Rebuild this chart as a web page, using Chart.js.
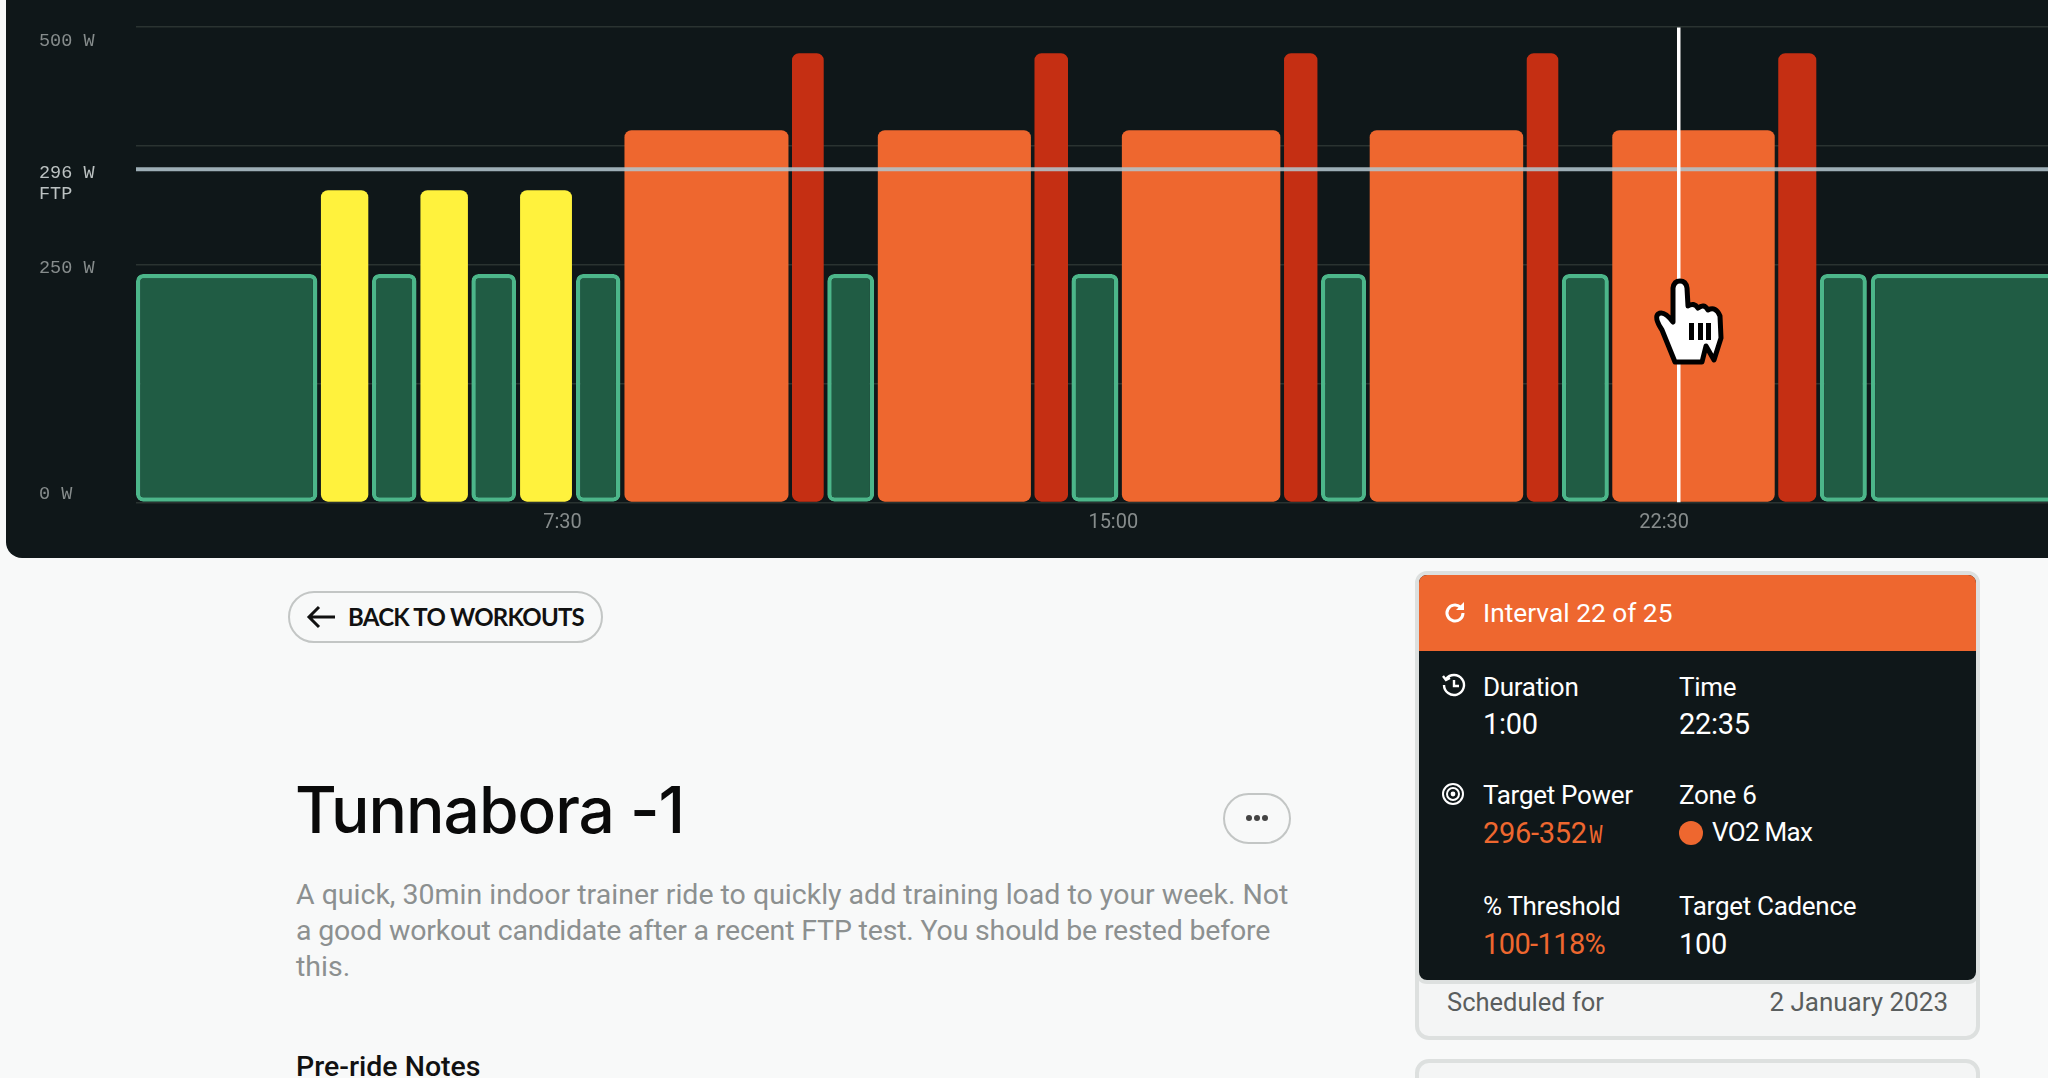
<!DOCTYPE html>
<html>
<head>
<meta charset="utf-8">
<title>Tunnabora -1</title>
<script src="https://cdn.jsdelivr.net/npm/chart.js@4"></script>
<style>
  html, body { margin: 0; padding: 0; width: 2048px; height: 1078px; overflow: hidden; background: #f8f9f9; font-family: Roboto, sans-serif; }
  .abs { position: absolute; white-space: nowrap; }
  #panel { position: absolute; left: 6px; top: 0; width: 2042px; height: 558px; background: #0f1719; border-bottom-left-radius: 16px; overflow: hidden; }
  #panel canvas { display: block; }
  .pill { position: absolute; box-sizing: border-box; border: 2.5px solid #c3c6c5; border-radius: 26px; }
  .white { color: #fff; font-size: 26px; letter-spacing: -.3px; }
  .hot { color: #ee672f; font-size: 29px; letter-spacing: -.3px; }
</style>
</head>
<body>
<div id="panel"><canvas id="workout-chart" width="2042" height="558"></canvas></div>

<svg class="abs" style="left:1650px;top:272px" width="80" height="96" viewBox="1650 272 80 96">
  <path d="M1675 362 L1662 330 Q1654 318 1658 314 Q1664 310 1673 322 L1673 288 Q1674 281 1680 281 Q1686 281 1687 288 L1688 306 Q1694 302 1698 308 Q1704 303 1708 310 Q1716 306 1720 316 L1721 338 L1714 360 L1706 346 L1702 362 Z" fill="#fff" stroke="#000" stroke-width="5" stroke-linejoin="round"/>
  <rect x="1689" y="323" width="5" height="17" fill="#000"/><rect x="1698" y="323" width="5" height="17" fill="#000"/><rect x="1706" y="323" width="5" height="17" fill="#000"/>
</svg>

<div class="pill" style="left:288px;top:591px;width:315px;height:52px"></div>
<svg class="abs" style="left:306px;top:604px" width="32" height="26" viewBox="0 0 32 26"><path d="M29 13H3M13 3L3 13l10 10" fill="none" stroke="#111" stroke-width="3"/></svg>
<div class="abs" style="left:348px;top:601px;font:700 24px/32px Lato,sans-serif;color:#111;letter-spacing:-.75px">BACK TO WORKOUTS</div>

<div class="abs" style="left:295px;top:772px;font:500 64px/76px Inter,sans-serif;color:#0a0a0a;letter-spacing:-1px">Tunnabora -1</div>
<div class="pill" style="left:1223px;top:793px;width:68px;height:51px"></div>
<svg class="abs" style="left:1244px;top:812px" width="26" height="12"><circle cx="5" cy="6" r="3" fill="#444"/><circle cx="13" cy="6" r="3" fill="#444"/><circle cx="21" cy="6" r="3" fill="#444"/></svg>

<div class="abs" style="left:296px;top:877px;font:400 28.5px/36px Roboto,sans-serif;color:#8c9090">A quick, 30min indoor trainer ride to quickly add training load to your week. Not<br><span style="letter-spacing:-.18px">a good workout candidate after a recent FTP test. You should be rested before</span><br>this.</div>
<div class="abs" style="left:296px;top:1049px;font:500 28.5px/36px Roboto,sans-serif;color:#111">Pre-ride Notes</div>

<!-- cards behind the popup -->
<div class="abs" style="left:1415px;top:880px;width:565px;height:160px;box-sizing:border-box;background:#f4f5f5;border:4px solid #dde0df;border-radius:14px"></div>
<div class="abs" style="left:1415px;top:1059px;width:565px;height:40px;box-sizing:border-box;background:#f4f5f5;border:4px solid #dde0df;border-radius:14px"></div>
<div class="abs" style="left:1447px;top:984px;font:400 25.5px/36px Roboto,sans-serif;color:#5a5e5e">Scheduled for</div>
<div class="abs" style="right:100px;top:984px;font:400 26px/36px Roboto,sans-serif;color:#5a5e5e">2 January 2023</div>

<!-- interval popup -->
<div class="abs" style="left:1415px;top:571px;width:565px;height:413px;box-sizing:border-box;border:4px solid #dde0df;border-radius:12px;background:#0f1719;overflow:hidden">
  <div style="height:76px;background:#ee672f"></div>
</div>
<svg class="abs" style="left:1443px;top:601px" width="24" height="24" viewBox="0 0 24 24"><path d="M20 12a8 8 0 1 1-2.6-5.9" fill="none" stroke="#fff" stroke-width="3"/><path d="M21 1v8h-8z" fill="#fff"/></svg>
<div class="abs white" style="left:1483px;top:598px;letter-spacing:0;font-size:26.3px">Interval 22 of 25</div>
<svg class="abs" style="left:1441px;top:672px" width="26" height="26" viewBox="0 0 26 26"><path d="M5 7a10 10 0 1 1-2 6M2 4l3 4 4-2" fill="none" stroke="#fff" stroke-width="2.4"/><path d="M13 8v6h5" fill="none" stroke="#fff" stroke-width="2.4"/></svg>
<div class="abs white" style="left:1483px;top:672px">Duration</div>
<div class="abs white" style="left:1483px;top:707px;font-size:29px">1:00</div>
<div class="abs white" style="left:1679px;top:672px">Time</div>
<div class="abs white" style="left:1679px;top:707px;font-size:29px">22:35</div>
<svg class="abs" style="left:1441px;top:782px" width="24" height="24" viewBox="0 0 24 24"><circle cx="12" cy="12" r="10" fill="none" stroke="#fff" stroke-width="2"/><circle cx="12" cy="12" r="6" fill="none" stroke="#fff" stroke-width="2"/><circle cx="12" cy="12" r="2.4" fill="#fff"/></svg>
<div class="abs white" style="left:1483px;top:780px">Target Power</div>
<div class="abs hot" style="left:1483px;top:816px">296-352<span style="display:inline-block;font:400 27px 'Liberation Mono',monospace;transform:scaleX(.8);margin-left:1px">W</span></div>
<div class="abs white" style="left:1679px;top:780px">Zone 6</div>
<svg class="abs" style="left:1679px;top:821px" width="24" height="24"><circle cx="12" cy="12" r="12" fill="#ee672f"/></svg>
<div class="abs white" style="left:1712px;top:817px;letter-spacing:-.7px">VO2 Max</div>
<div class="abs white" style="left:1483px;top:891px">% Threshold</div>
<div class="abs hot" style="left:1483px;top:927px;letter-spacing:-.6px">100-118%</div>
<div class="abs white" style="left:1679px;top:891px">Target Cadence</div>
<div class="abs white" style="left:1679px;top:927px;font-size:29px">100</div>

<script>
// y values are read against the printed gridlines, x values are seconds along the time axis
const intervalStarts = [101.5, 252.6, 294.3, 333.9, 375.5, 415.3, 461, 500.6, 637.5, 666.3, 707.6, 835.6, 865.8, 907, 1039.5, 1069.7, 1109.5, 1237.8, 1266.5, 1307.7, 1443.3, 1477.3, 1518.9];
const intervalEnds = [249.7, 291.3, 330.7, 372.7, 412, 457.7, 497.3, 634.6, 663.4, 704.6, 832.7, 863, 904.2, 1036.5, 1066.8, 1106.5, 1234.9, 1263.6, 1304.9, 1440.4, 1474.4, 1515.7, 1700];
const intervalPower = [240, 328, 240, 328, 240, 328, 240, 391, 472, 240, 391, 472, 240, 391, 472, 240, 391, 472, 240, 391, 472, 240, 240];
const intervalZones = ['rest', 'tempo', 'rest', 'tempo', 'rest', 'tempo', 'rest', 'vo2', 'max', 'rest', 'vo2', 'max', 'rest', 'vo2', 'max', 'rest', 'vo2', 'max', 'rest', 'vo2', 'max', 'rest', 'rest'];

const gridValues = [0, 125, 250, 375, 500];
const yTickValues = [9, 246, 335, 485];
const yTickLabels = ['0 W', '250 W', ['296 W', 'FTP'], '500 W'];
const xTickValues = [450, 900, 1350];
const xTickLabels = ['7:30', '15:00', '22:30'];

const ftpLevel = 350;
const cursorTime = 1362;

const zoneFill = { rest: '#205c44', tempo: '#fff23d', vo2: '#ee672f', max: '#c52f13' };
const zoneBorder = { rest: '#4cb68a', tempo: '#fff23d', vo2: '#ee672f', max: '#c52f13' };

// bars with their own width: start and end come from the data, not from the category grid
class IntervalBarController extends Chart.BarController {
    static id = 'intervalBar';
    static defaults = {};

    _calculateBarIndexPixels(index) {
        const point = this.getDataset().data[index];
        const scale = this._cachedMeta.iScale;
        const left = scale.getPixelForValue(point.start);
        const right = scale.getPixelForValue(point.end);
        return { base: left, head: right, center: (left + right) / 2, size: right - left };
    }
}
Chart.register(IntervalBarController);

const xMin = 101.5;
const xMax = 1663.7;

new Chart(document.getElementById('workout-chart'), {
    type: 'intervalBar',
    data: {
        datasets: [
            {
                type: 'line',
                data: [{ x: cursorTime, y: 0 }, { x: cursorTime, y: 499 }],
                borderColor: '#ffffff',
                borderWidth: 3.5,
                pointRadius: 0,
                order: 1,
            },
            {
                type: 'line',
                data: [{ x: xMin, y: ftpLevel }, { x: xMax, y: ftpLevel }],
                borderColor: 'rgba(178,196,204,0.88)',
                borderWidth: 4,
                pointRadius: 0,
                order: 2,
            },
            {
                data: intervalStarts.map((start, i) => ({ x: start, y: intervalPower[i], start: start, end: intervalEnds[i] })),
                backgroundColor: intervalZones.map((z) => zoneFill[z]),
                borderColor: intervalZones.map((z) => zoneBorder[z]),
                borderWidth: intervalZones.map((z) => (z === 'rest' ? 4.5 : 0)),
                borderRadius: 7,
                borderSkipped: false,
                order: 3,
            },
        ],
    },
    options: {
        responsive: false,
        animation: false,
        devicePixelRatio: 1,
        events: [],
        layout: { padding: { left: 33, top: 26.6, right: 0, bottom: 0 } },
        plugins: { legend: { display: false }, tooltip: { enabled: false } },
        scales: {
            x: {
                type: 'linear',
                offset: false,
                min: xMin,
                max: xMax,
                grid: { display: false, offset: false },
                border: { display: false },
                afterBuildTicks: (scale) => { scale.ticks = xTickValues.map((v) => ({ value: v })); },
                afterFit: (scale) => { scale.height = 55.6; },
                ticks: {
                    autoSkip: false,
                    maxRotation: 0,
                    padding: 1,
                    color: '#868c8c',
                    font: { family: 'Roboto', size: 20 },
                    callback: (value, index) => xTickLabels[index],
                },
            },
            y: {
                min: 0,
                max: 500,
                grid: { color: '#2a3331', lineWidth: 1.5, drawTicks: false },
                border: { display: false },
                ticks: { display: false },
                afterBuildTicks: (scale) => { scale.ticks = gridValues.map((v) => ({ value: v })); },
                afterFit: (scale) => { scale.width = 0; },
            },
            yLabels: {
                type: 'linear',
                position: 'left',
                min: 0,
                max: 500,
                grid: { display: false },
                border: { display: false },
                afterBuildTicks: (scale) => { scale.ticks = yTickValues.map((v) => ({ value: v })); },
                afterFit: (scale) => { scale.width = 97; },
                ticks: {
                    autoSkip: false,
                    crossAlign: 'far',
                    color: (ctx) => (ctx.index === 2 ? '#bcc2c2' : '#868c8c'),
                    font: { family: 'Liberation Mono', size: 18.5, lineHeight: 1.18 },
                    callback: (value, index) => yTickLabels[index],
                },
            },
        },
    },
});
</script>
</body>
</html>
